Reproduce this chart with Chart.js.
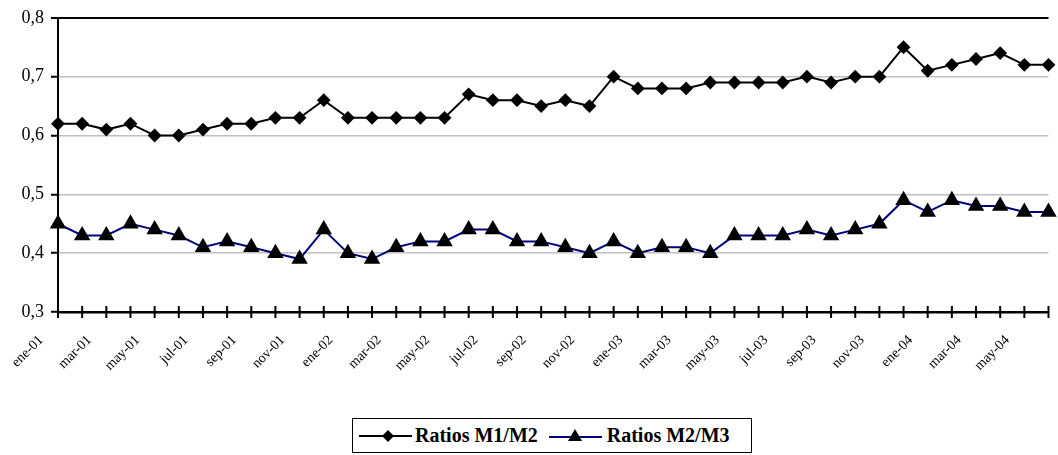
<!DOCTYPE html>
<html>
<head>
<meta charset="utf-8">
<script src="https://cdn.jsdelivr.net/npm/chart.js@4.4.0/dist/chart.umd.min.js"></script>
<style>
  body { margin: 0; background: #fff; }
  #wrap { position: relative; width: 1058px; height: 455px; overflow: hidden; }
  #legend {
    position: absolute; left: 352px; top: 418px; width: 398px; height: 33px;
    border: 1.5px solid #000; background: #fff;
    display: flex; align-items: center;
    font-family: 'Liberation Serif', serif; font-weight: bold; font-size: 20px; color: #000;
  }
  #legend .item { display: flex; align-items: center; }
  #legend svg { display: block; }
</style>
</head>
<body>
<div id="wrap">
  <canvas id="ratiosChart" width="1058" height="455"></canvas>
  <div id="legend">
    <div class="item" style="margin-left:6px">
      <svg width="53" height="16"><line x1="0" y1="8" x2="53" y2="8" stroke="#000" stroke-width="2"/><polygon points="29,2 35,8 29,14 23,8" fill="#000"/></svg>
      <span style="margin-left:3px">Ratios M1/M2</span>
    </div>
    <div class="item" style="margin-left:11px">
      <svg width="53" height="16"><line x1="0" y1="9" x2="53" y2="9" stroke="#000080" stroke-width="2"/><polygon points="26,1 33,13 19,13" fill="#000"/></svg>
      <span style="margin-left:5px">Ratios M2/M3</span>
    </div>
  </div>
</div>
<script>
// meses (ene-01 .. jun-04)
var meses = [
  'ene-01','feb-01','mar-01','abr-01','may-01','jun-01','jul-01','ago-01','sep-01','oct-01','nov-01','dic-01',
  'ene-02','feb-02','mar-02','abr-02','may-02','jun-02','jul-02','ago-02','sep-02','oct-02','nov-02','dic-02',
  'ene-03','feb-03','mar-03','abr-03','may-03','jun-03','jul-03','ago-03','sep-03','oct-03','nov-03','dic-03',
  'ene-04','feb-04','mar-04','abr-04','may-04','jun-04'
];

var ratiosM1M2 = [
  0.62,0.62,0.61,0.62,0.60,0.60,0.61,0.62,0.62,0.63,0.63,0.66,
  0.63,0.63,0.63,0.63,0.63,0.67,0.66,0.66,0.65,0.66,0.65,0.70,
  0.68,0.68,0.68,0.69,0.69,0.69,0.69,0.70,0.69,0.70,0.70,0.75,
  0.71,0.72,0.73,0.74,0.72,0.72
];

var ratiosM2M3 = [
  0.45,0.43,0.43,0.45,0.44,0.43,0.41,0.42,0.41,0.40,0.39,0.44,
  0.40,0.39,0.41,0.42,0.42,0.44,0.44,0.42,0.42,0.41,0.40,0.42,
  0.40,0.41,0.41,0.40,0.43,0.43,0.43,0.44,0.43,0.44,0.45,0.49,
  0.47,0.49,0.48,0.48,0.47,0.47
];

var yTicks = [0.3, 0.4, 0.5, 0.6, 0.7, 0.8];

// marcas del eje x que cruzan la linea del eje
var crossTicks = {
  id: 'crossTicks',
  afterDraw: function(chart) {
    var ctx = chart.ctx;
    var xs = chart.scales.x;
    var y = chart.chartArea.bottom;
    ctx.save();
    ctx.strokeStyle = '#000';
    ctx.lineWidth = 2;
    for (var i = 0; i < meses.length; i++) {
      var x = xs.getPixelForValue(i);
      ctx.beginPath();
      ctx.moveTo(x, y - 6);
      ctx.lineTo(x, y + 6);
      ctx.stroke();
    }
    ctx.restore();
  }
};

var ctx = document.getElementById('ratiosChart').getContext('2d');
var chart = new Chart(ctx, {
  type: 'line',
  data: {
    labels: meses,
    datasets: [{
      label: 'Ratios M1/M2',
      data: ratiosM1M2,
      borderColor: '#000',
      borderWidth: 2,
      pointStyle: 'rectRot',
      pointRadius: 5.5,
      pointBackgroundColor: '#000',
      pointBorderColor: '#000',
      tension: 0,
      fill: false
    }, {
      label: 'Ratios M2/M3',
      data: ratiosM2M3,
      borderColor: '#000080',
      borderWidth: 2,
      pointStyle: 'triangle',
      pointRadius: 7.5,
      pointBackgroundColor: '#000',
      pointBorderColor: '#000',
      tension: 0,
      fill: false
    }]
  },
  options: {
    responsive: false,
    animation: false,
    layout: { padding: { top: 17, right: -2, left: 0, bottom: 0 } },
    plugins: {
      legend: { display: false },
      tooltip: { enabled: false }
    },
    scales: {
      x: {
        offset: false,
        afterFit: function(scale) {
          scale.height = 143;
          // sin margen extra por las etiquetas giradas
          scale.paddingLeft = 0;
          scale.paddingRight = 0;
        },
        grid: { display: false },
        border: { color: '#000', width: 2.5 },
        ticks: {
          autoSkip: false,
          maxRotation: 45,
          minRotation: 45,
          labelOffset: -17,
          padding: 12,
          color: '#000',
          font: { family: 'Liberation Serif', size: 14 },
          callback: function(value, index) {
            return index % 2 === 0 ? meses[index] : '';
          }
        }
      },
      y: {
        min: yTicks[0],
        max: yTicks[yTicks.length - 1],
        afterFit: function(scale) { scale.width = 58; },
        afterBuildTicks: function(scale) {
          scale.ticks = yTicks.map(function(v) { return { value: v }; });
        },
        border: { color: '#000', width: 2 },
        grid: {
          color: function(c) { return c.tick && c.tick.value === 0.8 ? '#000' : '#c0c0c0'; },
          lineWidth: function(c) { return c.tick && c.tick.value === 0.8 ? 2 : 1.5; },
          tickColor: '#000',
          tickLength: 7,
          tickWidth: 2
        },
        ticks: {
          padding: 7,
          color: '#000',
          font: { family: 'Liberation Serif', size: 18 },
          callback: function(value) { return value.toFixed(1).replace('.', ','); }
        }
      }
    }
  },
  plugins: [crossTicks]
});
</script>
</body>
</html>
